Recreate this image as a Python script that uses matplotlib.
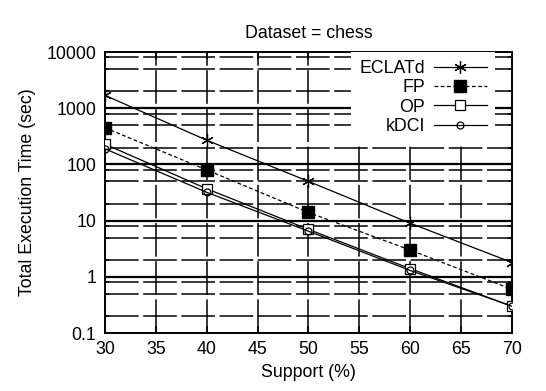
import numpy as np
import matplotlib.pyplot as plt
from matplotlib.ticker import LogLocator, FixedLocator, NullFormatter

plt.rcParams['font.family'] = ['Liberation Sans', 'DejaVu Sans']

# data
support = [30, 40, 50, 60, 70]
eclatd = [1700, 270, 50, 9, 1.8]
fp = [450, 80, 14, 3, 0.6]
op = [230, 37, 7, 1.4, 0.3]
kdci = [190, 32, 6.5, 1.3, 0.3]

x_ticks = [30, 35, 40, 45, 50, 55, 60, 65, 70]
y_ticks = [0.1, 1, 10, 100, 1000, 10000]
y_labels = ['0.1', '1', '10', '100', '1000', '10000']

fig = plt.figure(figsize=(5.46, 3.91), dpi=100)
ax = fig.add_axes([0.192, 0.148, 0.746, 0.719])

ax.set_yscale('log')
ax.set_xlim(30, 70)
ax.set_ylim(0.1, 10000)

# grid like gnuplot, long-dashed lines at major and minor positions
grid_style = dict(color='black', lw=1.1, ls=(0, (22, 3)), zorder=1)
for xv in x_ticks[1:-1]:
    ax.axvline(xv, **grid_style)
for dec in [0.1, 1, 10, 100, 1000]:
    for s in [2, 5, 8]:
        ax.axhline(dec * s, **grid_style)
    if dec > 0.1:
        ax.axhline(dec, color='black', lw=1.6, zorder=1)

ax.plot(support, eclatd, color='black', lw=0.9, marker=(6, 2, 0), ms=9,
        mew=0.9, label='ECLATd', zorder=3)
ax.plot(support, fp, color='black', lw=0.9, ls=(0, (3, 2)), marker='s',
        ms=8, mfc='black', label='FP', zorder=3)
ax.plot(support, op, color='black', lw=0.9, marker='s', ms=7, mfc='white',
        mew=0.9, label='OP', zorder=3)
ax.plot(support, kdci, color='black', lw=0.9, marker='o', ms=5, mfc='none',
        mew=0.9, label='kDCI', zorder=3)

ax.set_xticks(x_ticks)
ax.yaxis.set_major_locator(FixedLocator(y_ticks))
ax.set_yticklabels(y_labels)
ax.yaxis.set_minor_locator(LogLocator(base=10, subs=[2, 5, 8]))
ax.yaxis.set_minor_formatter(NullFormatter())
ax.tick_params(axis='both', which='both', direction='in', top=True, right=True,
               labelsize=12.8, length=5, width=1.1, pad=6, colors='black')
ax.tick_params(axis='y', which='minor', length=3)
for sp in ax.spines.values():
    sp.set_linewidth(1.4)

ax.set_xlabel('Support (%)', fontsize=12.8, labelpad=4)
ax.set_ylabel('Total Execution Time (sec)', fontsize=12.8, labelpad=8)
ax.set_title('Dataset = chess', fontsize=12.8, pad=10)

leg = ax.legend(loc='upper right', bbox_to_anchor=(0.958, 1.0), markerfirst=False,
                fontsize=12.8, handlelength=3.0, handletextpad=0.5,
                labelspacing=0.13, borderaxespad=0.0, borderpad=0.45,
                frameon=True, fancybox=False, framealpha=1.0,
                facecolor='white', edgecolor='none')
leg.set_zorder(5)
for col in leg._legend_handle_box.get_children():
    col.align = 'right'

fig.savefig('out.png', dpi=100)
